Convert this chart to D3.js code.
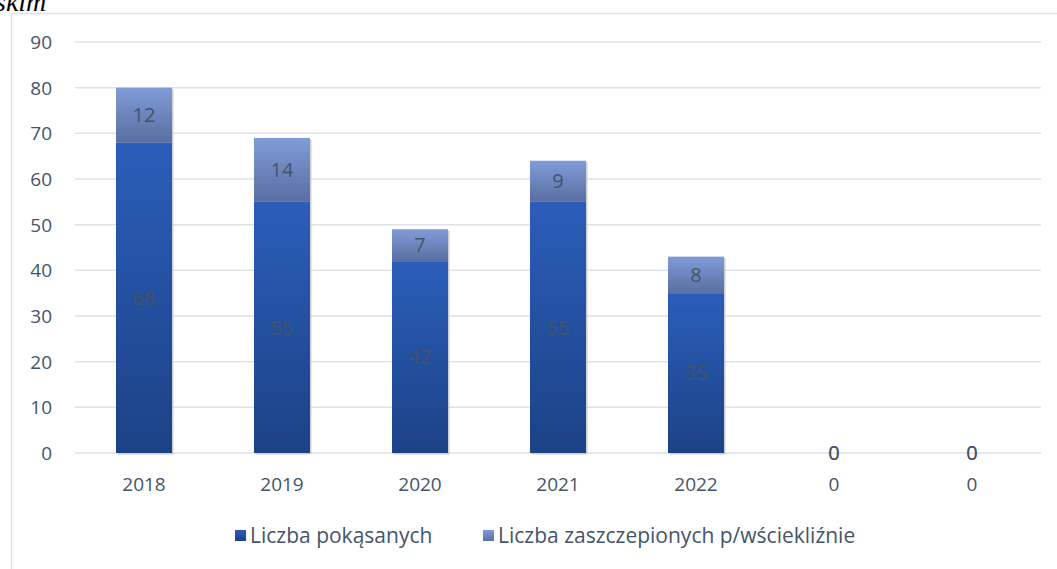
<!DOCTYPE html>
<html>
<head>
<meta charset="utf-8">
<script src="https://cdn.jsdelivr.net/npm/d3@7"></script>
<style>
  html, body { margin: 0; padding: 0; background: #ffffff; }
  svg { display: block; }
</style>
</head>
<body>
<div id="chart"></div>
<script>
// dane z wykresu
const kategorie = ["2018", "2019", "2020", "2021", "2022", "0", "0"];
const pokasanych = [68, 55, 42, 55, 35, 0, 0];
const zaszczepionych = [12, 14, 7, 9, 8, 0, 0];
const yTicks = [0, 10, 20, 30, 40, 50, 60, 70, 80, 90];
const legenda = ["Liczba pokąsanych", "Liczba zaszczepionych p/wściekliźnie"];

const width = 1057, height = 569;
const font = "'Open Sans', sans-serif";
const fontSize = "19px";
const textColor = "#44546a";
const gridColor = "#dde1e8";

const svg = d3.select("#chart").append("svg")
    .attr("width", width)
    .attr("height", height);

const defs = svg.append("defs");
function fn_gradient(id, c1, c2) {
    const g = defs.append("linearGradient")
        .attr("id", id)
        .attr("x1", "0").attr("y1", "0")
        .attr("x2", "0").attr("y2", "1");
    g.append("stop").attr("offset", "0%").attr("stop-color", c1);
    g.append("stop").attr("offset", "100%").attr("stop-color", c2);
}
fn_gradient("grad_dol", "#2b5db9", "#1c4286");
fn_gradient("grad_gora", "#809cd9", "#5a6ea0");

// ucięty tytuł nad ramką
svg.append("text")
    .text("skim")
    .attr("x", -5)
    .attr("y", 11)
    .style("font-family", "'Liberation Serif', serif")
    .style("font-style", "italic")
    .style("font-size", "28px")
    .attr("fill", "#000");

// ramka obszaru wykresu
svg.append("rect")
    .attr("x", 11.5)
    .attr("y", 13.5)
    .attr("width", width + 20)
    .attr("height", height + 20)
    .attr("fill", "none")
    .attr("stroke", gridColor)
    .attr("stroke-width", 1.5);

const plot = { left: 75, right: 1041, top: 42, bottom: 453 };

const x = d3.scaleBand()
    .domain(d3.range(kategorie.length))
    .range([plot.left, plot.right])
    .paddingInner(0.594)
    .paddingOuter(0.297);

const y = d3.scaleLinear()
    .domain([0, 90])
    .range([plot.bottom, plot.top]);

// linie siatki
svg.append("g")
    .selectAll("line")
    .data(yTicks)
    .join("line")
    .attr("x1", plot.left)
    .attr("x2", plot.right)
    .attr("y1", d => y(d))
    .attr("y2", d => y(d))
    .attr("stroke", gridColor)
    .attr("stroke-width", 1.5);

// etykiety osi Y
svg.append("g")
    .selectAll("text")
    .data(yTicks)
    .join("text")
    .attr("x", 52)
    .attr("y", d => y(d))
    .attr("dy", "0.36em")
    .attr("text-anchor", "end")
    .style("font-family", font)
    .style("font-size", fontSize)
    .attr("fill", textColor)
    .text(d => d);

// etykiety kategorii
svg.append("g")
    .selectAll("text")
    .data(kategorie)
    .join("text")
    .attr("x", (d, i) => x(i) + x.bandwidth() / 2)
    .attr("y", 484)
    .attr("dy", "0.36em")
    .attr("text-anchor", "middle")
    .style("font-family", font)
    .style("font-size", fontSize)
    .attr("fill", textColor)
    .text(d => d);

// dane ułożone w stos
const stos = kategorie.map((k, i) => ({
    i: i,
    dol: pokasanych[i],
    gora: zaszczepionych[i]
}));

const g_bary = svg.append("g");
const bw = x.bandwidth();

// cień słupków
g_bary.selectAll("rect.cien")
    .data(stos.filter(d => d.dol + d.gora > 0))
    .join("rect")
    .attr("class", "cien")
    .attr("x", d => x(d.i) + 1.5)
    .attr("y", d => y(d.dol + d.gora) + 1.5)
    .attr("width", bw)
    .attr("height", d => y(0) - y(d.dol + d.gora))
    .attr("fill", "#c4c4c4")
    .attr("opacity", 0.8);

g_bary.selectAll("rect.dol")
    .data(stos)
    .join("rect")
    .attr("class", "dol")
    .attr("x", d => x(d.i))
    .attr("y", d => y(d.dol))
    .attr("width", bw)
    .attr("height", d => y(0) - y(d.dol))
    .attr("fill", "url(#grad_dol)");

g_bary.selectAll("rect.gora")
    .data(stos)
    .join("rect")
    .attr("class", "gora")
    .attr("x", d => x(d.i))
    .attr("y", d => y(d.dol + d.gora))
    .attr("width", bw)
    .attr("height", d => y(d.dol) - y(d.dol + d.gora))
    .attr("fill", "url(#grad_gora)");

// etykiety danych
function fn_etykiety(klasa, wartosc, srodek) {
    g_bary.selectAll("text." + klasa)
        .data(stos)
        .join("text")
        .attr("class", klasa)
        .attr("x", d => x(d.i) + bw / 2)
        .attr("y", d => srodek(d))
        .attr("dy", "0.36em")
        .attr("text-anchor", "middle")
        .style("font-family", font)
        .style("font-size", "20px")
        .attr("fill", "#44546a")
        .text(d => wartosc(d));
}
fn_etykiety("lab_dol", d => d.dol, d => (y(0) + y(d.dol)) / 2);
fn_etykiety("lab_gora", d => d.gora, d => (y(d.dol) + y(d.dol + d.gora)) / 2);

// legenda
const leg = svg.append("g");
const legX = [235, 483];
legenda.forEach((nazwa, i) => {
    leg.append("rect")
        .attr("x", legX[i])
        .attr("y", 530)
        .attr("width", 11)
        .attr("height", 11)
        .attr("fill", i === 0 ? "url(#grad_dol)" : "url(#grad_gora)");
    leg.append("text")
        .attr("x", legX[i] + 15)
        .attr("y", 535)
        .attr("dy", "0.36em")
        .style("font-family", font)
        .style("font-size", "21px")
        .attr("fill", textColor)
        .text(nazwa);
});
</script>
</body>
</html>
